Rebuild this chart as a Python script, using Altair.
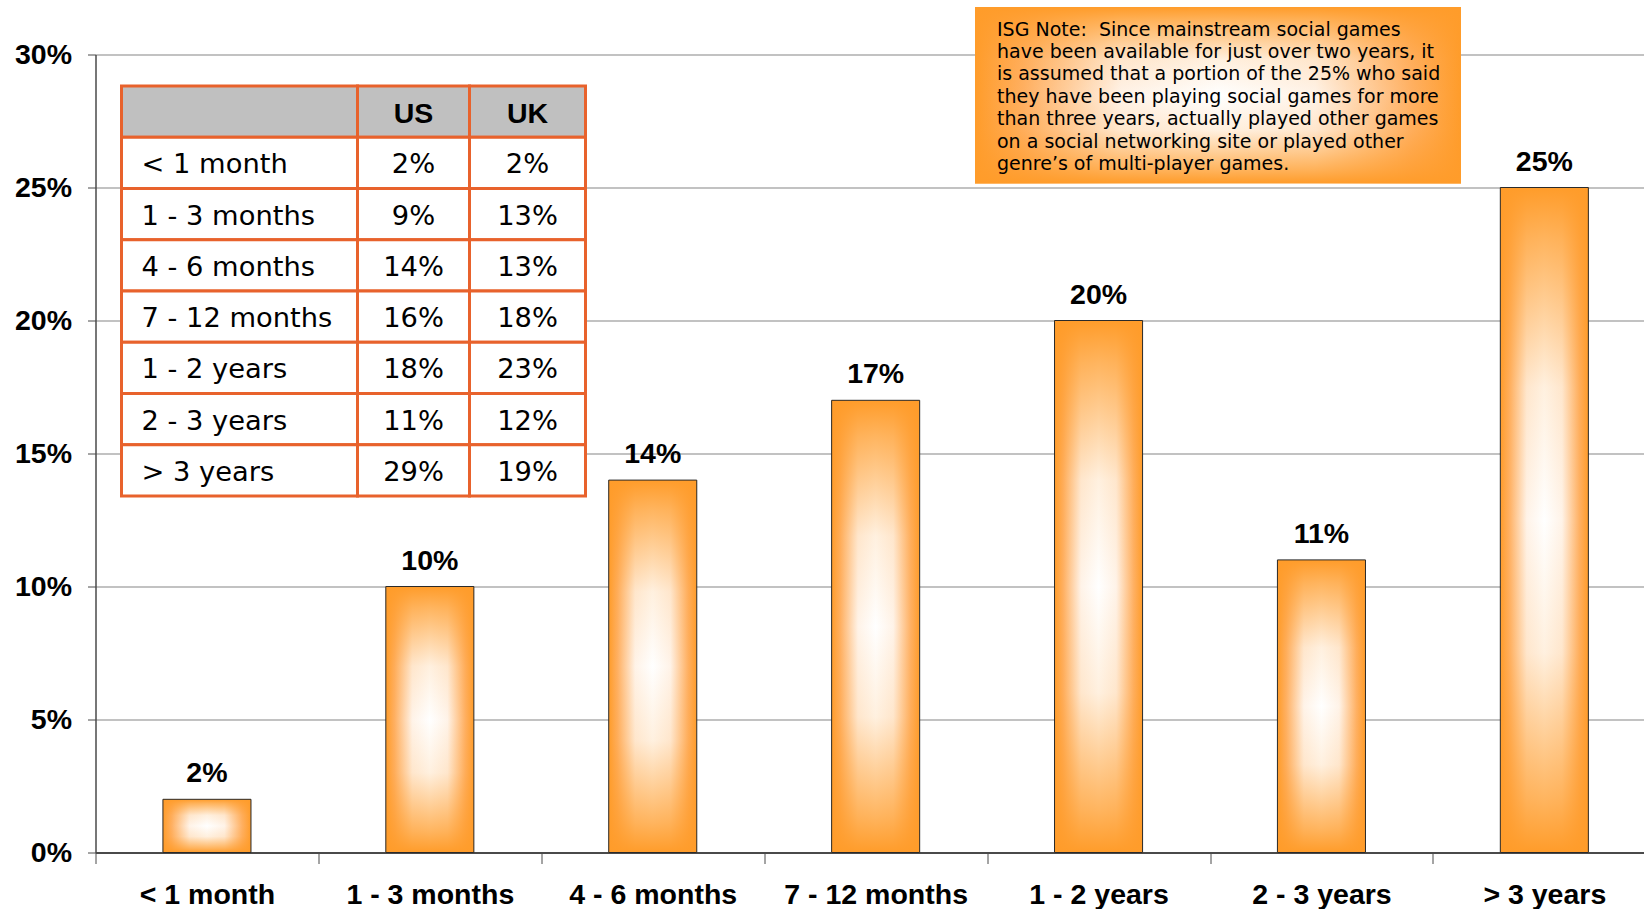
import altair as alt
import pandas as pd

# How long respondents have been playing social games (share of all players)
DURATIONS = ["< 1 month", "1 - 3 months", "4 - 6 months", "7 - 12 months",
             "1 - 2 years", "2 - 3 years", "> 3 years"]
OVERALL_PCT = [2, 10, 14, 17, 20, 11, 25]
US_PCT = [2, 9, 14, 16, 18, 11, 29]
UK_PCT = [2, 13, 13, 18, 23, 12, 19]
TABLE_HEADER = ["", "US", "UK"]
Y_TICKS = [0, 5, 10, 15, 20, 25, 30]
NOTE_LINES = [
    "ISG Note:\u00a0 Since mainstream social games",
    "have been available for just over two years, it",
    "is assumed that a portion of the 25% who said",
    "they have been playing social games for more",
    "than three years, actually played other games",
    "on a social networking site or played other",
    "genre\u2019s of multi-player games.",
]

# Fonts and colours
BOLD_FONT = "Liberation Sans, Arial"
BODY_FONT = "DejaVu Sans, Verdana"
ORANGE = "#ff9c2a"
TABLE_LINE = "#e8622c"
HEADER_FILL = "#c0c0c0"
GRID = "#858585"
AXIS = "#4a4a4a"

# Layout in pixels (plot coordinates unless noted)
PAD_LEFT, PAD_TOP = 95.5, 54.5
PLOT_W, PLOT_H = 1548.5, 798
PAD_BOTTOM = 909 - PAD_TOP - PLOT_H
BAND_STEP = 222.9
BAR_FRACTION = 0.395
TABLE_X, TABLE_Y = 26, 31.5
TABLE_COL_W = [236, 112, 116]
TABLE_ROW_H = 51.25
NOTE_X, NOTE_X2, NOTE_Y, NOTE_Y2 = 879.5, 1365.5, -47.5, 129
NOTE_TEXT_X, NOTE_TEXT_Y = 901.5, -19


def orange_alpha(a):
    return f"rgba(255,156,42,{a})"


# Two stacked gradients give a rectangular "glow": white in the middle,
# orange towards every edge.
side_glow = alt.Gradient(
    gradient="linear", x1=0, y1=0, x2=1, y2=0,
    stops=[alt.GradientStop(offset=0, color=ORANGE),
           alt.GradientStop(offset=0.1, color="#ffb062"),
           alt.GradientStop(offset=0.3, color="#fff3e8"),
           alt.GradientStop(offset=0.5, color="#ffffff"),
           alt.GradientStop(offset=0.7, color="#fff3e8"),
           alt.GradientStop(offset=0.9, color="#ffb062"),
           alt.GradientStop(offset=1, color=ORANGE)],
)
end_glow = alt.Gradient(
    gradient="linear", x1=0, y1=0, x2=0, y2=1,
    stops=[alt.GradientStop(offset=0, color=orange_alpha(1)),
           alt.GradientStop(offset=0.08, color=orange_alpha(0.75)),
           alt.GradientStop(offset=0.3, color=orange_alpha(0.15)),
           alt.GradientStop(offset=0.5, color=orange_alpha(0)),
           alt.GradientStop(offset=0.7, color=orange_alpha(0.15)),
           alt.GradientStop(offset=0.92, color=orange_alpha(0.75)),
           alt.GradientStop(offset=1, color=orange_alpha(1))],
)

# ---- bar chart -------------------------------------------------------------
bar_df = pd.DataFrame({"duration": DURATIONS, "pct": OVERALL_PCT})
bar_df["label"] = bar_df["pct"].astype(str) + "%"

x_axis = alt.Axis(
    title=None, labelAngle=0, grid=False, tickBand="extent",
    tickSize=11, tickColor=AXIS, tickWidth=1,
    domainColor=AXIS, domainWidth=2,
    labelFont=BOLD_FONT, labelFontSize=28.5, labelFontWeight="bold",
    labelColor="black", labelPadding=17, labelLimit=0,
)
y_axis = alt.Axis(
    title=None, values=Y_TICKS, labelExpr="datum.value + '%'",
    grid=True, gridColor=GRID, gridWidth=1,
    domainColor=AXIS, domainWidth=1.5,
    tickColor=AXIS, tickSize=8, tickWidth=1,
    labelFont=BOLD_FONT, labelFontSize=28.5, labelFontWeight="bold",
    labelColor="black", labelPadding=16, labelLimit=0,
)
x_enc = alt.X("duration:N", sort=DURATIONS, axis=x_axis,
              scale=alt.Scale(domain=DURATIONS, range=[0, BAND_STEP * len(DURATIONS)],
                              paddingInner=0, paddingOuter=0))
y_enc = alt.Y("pct:Q", axis=y_axis, scale=alt.Scale(domain=[0, 30], nice=False))

bar_base = alt.Chart(bar_df).encode(x=x_enc, y=y_enc)
bars_side = bar_base.mark_bar(width=alt.RelativeBandSize(BAR_FRACTION),
                              fill=side_glow, strokeWidth=0)
bars_end = bar_base.mark_bar(width=alt.RelativeBandSize(BAR_FRACTION),
                             fill=end_glow, stroke="#2a2a2a", strokeWidth=1)
bar_labels = bar_base.mark_text(
    font=BOLD_FONT, fontSize=28.5, fontWeight="bold", color="black",
    baseline="middle", dy=-26,
).encode(text="label:N")

bar_layer = alt.layer(bars_side, bars_end, bar_labels)

# ---- US / UK table -----------------------------------------------------------
col_edges = [0]
for w in TABLE_COL_W:
    col_edges.append(col_edges[-1] + w)

table_rows = [("head", TABLE_HEADER)] + [
    (d, [d, f"{u}%", f"{k}%"]) for d, u, k in zip(DURATIONS, US_PCT, UK_PCT)
]
row_keys = [key for key, _ in table_rows]
cells = []
for key, texts in table_rows:
    for c, t in enumerate(texts):
        cells.append({
            "row": key, "col": c, "header": key == "head", "text": t,
            "x0": col_edges[c], "x1": col_edges[c + 1],
            "xc": (col_edges[c] + col_edges[c + 1]) / 2,
        })
table_df = pd.DataFrame(cells)

tx_scale = alt.Scale(domain=[0, col_edges[-1]], range=[TABLE_X, TABLE_X + col_edges[-1]])
ty_scale = alt.Scale(domain=row_keys, range=[TABLE_Y, TABLE_Y + TABLE_ROW_H * len(row_keys)],
                     paddingInner=0, paddingOuter=0)
ty = alt.Y("row:O", scale=ty_scale, axis=None)

table_base = alt.Chart(table_df)
table_cells = table_base.mark_rect(stroke=TABLE_LINE, strokeWidth=3).encode(
    x=alt.X("x0:Q", scale=tx_scale, axis=None),
    x2="x1:Q",
    y=ty,
    fill=alt.condition("datum.header", alt.value(HEADER_FILL), alt.value("white")),
)
table_head = table_base.transform_filter("datum.header && datum.col > 0").mark_text(
    font=BOLD_FONT, fontSize=28.5, fontWeight="bold", color="black",
    baseline="middle", dy=2,
).encode(x=alt.X("xc:Q", scale=tx_scale, axis=None), y=ty, text="text:N")
table_names = table_base.transform_filter("!datum.header && datum.col == 0").mark_text(
    font=BODY_FONT, fontSize=27.3, color="black", align="left",
    baseline="middle", dx=20, dy=2.5,
).encode(x=alt.X("x0:Q", scale=tx_scale, axis=None), y=ty, text="text:N")
table_values = table_base.transform_filter("!datum.header && datum.col > 0").mark_text(
    font=BODY_FONT, fontSize=27.3, color="black", align="center",
    baseline="middle", dy=2.5,
).encode(x=alt.X("xc:Q", scale=tx_scale, axis=None), y=ty, text="text:N")

table_layer = alt.layer(table_cells, table_head, table_names, table_values)

# ---- note box ----------------------------------------------------------------
note_df = pd.DataFrame({"note": [0]})
note_pos = dict(x=alt.value(NOTE_X), x2=alt.value(NOTE_X2),
                y=alt.value(NOTE_Y), y2=alt.value(NOTE_Y2))
note_side = alt.Chart(note_df).mark_rect(fill=side_glow).encode(**note_pos)
note_end = alt.Chart(note_df).mark_rect(fill=end_glow).encode(**note_pos)
note_text = alt.Chart(note_df).mark_text(
    text=NOTE_LINES, font=BODY_FONT, fontSize=19, lineHeight=22.4,
    color="black", align="left", baseline="alphabetic",
).encode(x=alt.value(NOTE_TEXT_X), y=alt.value(NOTE_TEXT_Y))

chart = alt.layer(
    bar_layer, table_layer, note_side, note_end, note_text
).resolve_scale(
    x="independent", y="independent"
).properties(
    width=PLOT_W, height=PLOT_H, autosize="none", background="white",
    padding={"left": PAD_LEFT, "top": PAD_TOP, "right": 0, "bottom": PAD_BOTTOM},
).configure_view(stroke=None)

chart.save("out.html", embed_options={"renderer": "svg", "actions": False})
